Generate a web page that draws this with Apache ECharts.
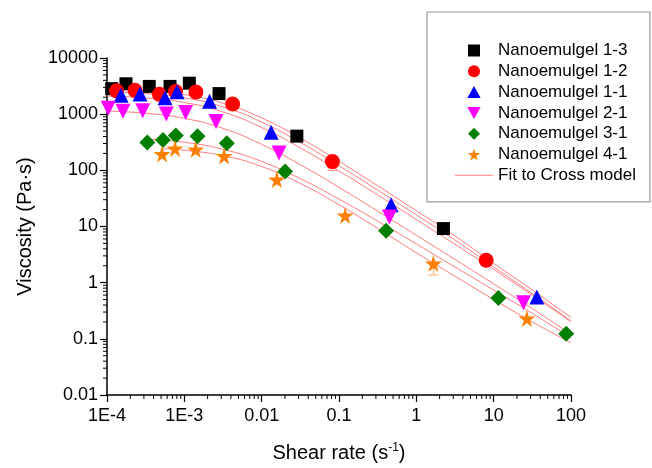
<!DOCTYPE html>
<html><head><meta charset="utf-8">
<script src="https://cdn.jsdelivr.net/npm/echarts@6/dist/echarts.min.js"></script>
<style>html,body{margin:0;padding:0;background:#fff}#c{width:652px;height:468px}</style>
</head><body><div id="c"></div>
<script>
// ---- data ----
const xTickLabels = ['1E-4','1E-3','0.01','0.1','1','10','100'];
const yTickLabels = ['0.01','0.1','1','10','100','1000','10000'];
const seriesNames = ['Nanoemulgel 1-3','Nanoemulgel 1-2','Nanoemulgel 1-1','Nanoemulgel 2-1','Nanoemulgel 3-1','Nanoemulgel 4-1'];

const shear13 = [1.15e-4, 1.76e-4, 3.52e-4, 6.53e-4, 1.16e-3, 2.81e-3, 0.0285, 2.24];
const visc13  = [2843, 3475, 3120, 3120, 3560, 2325, 406, 9.19];
const shear12 = [1.33e-4, 2.30e-4, 4.75e-4, 7.69e-4, 1.41e-3, 4.21e-3, 0.0822, 8.0];
const visc12  = [2600, 2655, 2260, 2530, 2480, 1513, 143, 2.51];
const shear11 = [1.52e-4, 2.67e-4, 5.62e-4, 8.05e-4, 2.12e-3, 0.01325, 0.472, 36.2];
const visc11  = [2173, 2280, 1963, 2500, 1706, 478, 24.4, 0.558];
const shear21 = [1.04e-4, 1.61e-4, 2.90e-4, 5.85e-4, 1.04e-3, 2.57e-3, 0.0168, 0.449, 24.3];
const visc21  = [1274, 1128, 1156, 1012, 1075, 743, 203, 14.7, 0.44];
const shear31 = [3.32e-4, 5.29e-4, 7.76e-4, 1.48e-3, 3.54e-3, 0.0201, 0.406, 11.5, 86.7];
const visc31  = [312, 346, 418, 406, 303, 95.7, 8.38, 0.536, 0.123];
const shear41 = [5.15e-4, 7.59e-4, 1.40e-3, 3.27e-3, 0.0157, 0.120, 1.66, 26.9];
const visc41  = [195, 245, 235, 180, 68.5, 15.7, 2.19, 0.231];

// visible error bars: [shear rate, lower, upper]
const err12 = [[0.0822, 99.6, 150]];
const err41 = [[1.66, 1.37, 2.3]];

// fit curves (Cross model lines)
const fitX    = [1e-4, 3.16e-4, 1e-3, 3.16e-3, 0.01, 0.0316, 0.1, 0.316, 1, 3.16, 10, 31.6, 100];
const fit13   = [2794, 2620, 2229, 1570, 856, 375, 145, 53.2, 19.1, 6.81, 2.2, 0.74, 0.24];
const fit12   = [2494, 2324, 1952, 1346, 721, 313, 121, 44.5, 16.1, 5.75, 1.9, 0.64, 0.21];
const fit11   = [2099, 1943, 1610, 1092, 578, 251, 97.8, 36.4, 13.3, 4.82, 1.72, 0.6, 0.2];
const fit21   = [1135, 1038, 842, 557, 290, 126, 49.8, 18.8, 6.99, 2.59, 0.952, 0.345, 0.12];
const fitX31  = [3.3e-4, 1e-3, 3.16e-3, 0.01, 0.0316, 0.1, 0.316, 1, 3.16, 10, 31.6, 100];
const fit31   = [360, 316, 237, 144, 71.2, 30.8, 12.5, 4.90, 1.90, 0.736, 0.284, 0.105];
const fitX41  = [5.15e-4, 1e-3, 3.16e-3, 0.01, 0.0316, 0.1, 0.316, 1, 3.16, 10, 31.6, 100];
const fit41   = [243, 228, 182, 117, 58.4, 24.4, 9.3, 3.41, 1.3, 0.5, 0.2, 0.085];

const colors  = ['#000000','#ff0000','#0000ff','#ff00ff','#007f00','#ff8000'];
const STAR = 'path://M50,0 L61,35 L98,35 L68,57 L79,91 L50,70 L21,91 L32,57 L2,35 L39,35 Z';
const symbols = ['rect','circle','triangle','triangle','diamond',STAR];
const symRot  = [0,0,0,180,0,0];
const symSize = [13,15,15,15,16,17];
const legendIcons = ['path://M0,0H10V10H0Z','path://M10,5A5,5 0 1 1 0,5A5,5 0 1 1 10,5Z','path://M5,0L10,9L0,9Z','path://M0,0L10,0L5,9Z','path://M5,0L10,5L5,10L0,5Z',STAR];
const FITCOLOR = '#ff7b7b';

const pts = [[shear13,visc13],[shear12,visc12],[shear11,visc11],[shear21,visc21],[shear31,visc31],[shear41,visc41]];
const fits = [[fitX,fit13],[fitX,fit12],[fitX,fit11],[fitX,fit21],[fitX31,fit31],[fitX41,fit41]];
const zip = (a,b) => a.map((v,i)=>[v,b[i]]);

const chart = echarts.init(document.getElementById('c'), null, {renderer:'canvas'});
const FONT = 'Liberation Sans, Arial, sans-serif';

function errSeries(data, color){
  return {type:'custom', data:data, z:2, silent:true,
    renderItem:(params, api)=>{
      const lo = api.coord([api.value(0), api.value(1)]);
      const hi = api.coord([api.value(0), api.value(2)]);
      const st = {stroke:color, lineWidth:1};
      return {type:'group', children:[
        {type:'line', shape:{x1:lo[0], y1:lo[1], x2:hi[0], y2:hi[1]}, style:st},
        {type:'line', shape:{x1:lo[0]-5, y1:lo[1], x2:lo[0]+5, y2:lo[1]}, style:st},
        {type:'line', shape:{x1:hi[0]-5, y1:hi[1], x2:hi[0]+5, y2:hi[1]}, style:st}
      ]};
    }};
}

const series = [];
fits.forEach((f,i)=>{
  series.push({name:'Fit to Cross model', type:'line', data: zip(f[0],f[1]), smooth:true, showSymbol:false,
    symbol:'none', lineStyle:{color:FITCOLOR, width:1}, itemStyle:{color:FITCOLOR}, z:1, silent:true});
});
series.push(errSeries(err12, '#ff8a8a'));
series.push(errSeries(err41, '#ffb070'));
pts.forEach((p,i)=>{
  series.push({name:seriesNames[i], type:'scatter', data: zip(p[0],p[1]), symbol:symbols[i], symbolRotate:symRot[i],
    symbolSize:symSize[i], itemStyle:{color:colors[i], opacity:1}, z:3});
});

const fmtX = v => { const e = Math.round(Math.log10(v)); return xTickLabels[e+4]; };
const fmtY = v => { const e = Math.round(Math.log10(v)); return yTickLabels[e+2]; };

chart.setOption({
  animation:false,
  backgroundColor:'#fff',
  grid:{left:107, right:81, top:58, bottom:64, containLabel:false},
  xAxis:{type:'log', logBase:10, min:1e-4, max:100,
    axisLine:{show:true, lineStyle:{color:'#000', width:1.5}},
    axisTick:{show:true, inside:false, length:7, lineStyle:{color:'#000', width:1.2}},
    splitLine:{show:false}, minorTick:{show:false},
    axisLabel:{formatter:fmtX, fontSize:18, color:'#000', fontFamily:FONT, margin:12, showMinLabel:true, showMaxLabel:true},
    name:'Shear rate (s{sup|-1})', nameLocation:'middle', nameGap:47,
    nameTextStyle:{fontSize:20, color:'#000', fontFamily:FONT, rich:{sup:{fontSize:12, verticalAlign:'top', padding:[0,0,10,0], color:'#000', fontFamily:FONT}}}
  },
  yAxis:{type:'log', logBase:10, min:0.01, max:10000,
    axisLine:{show:true, lineStyle:{color:'#000', width:1.5}},
    axisTick:{show:true, inside:false, length:7, lineStyle:{color:'#000', width:1.2}},
    splitLine:{show:false}, minorTick:{show:false},
    axisLabel:{formatter:fmtY, fontSize:18, color:'#000', fontFamily:FONT, margin:9, showMinLabel:true, showMaxLabel:true},
    name:'Viscosity (Pa·s)', nameLocation:'middle', nameGap:72,
    nameTextStyle:{fontSize:20, color:'#000', fontFamily:FONT}
  },
  legend:{
    orient:'vertical', left:427, top:12, padding:[30,14,18,28],
    borderColor:'#999', borderWidth:1.2, backgroundColor:'#fff',
    itemWidth:38, itemHeight:12, itemGap:3.8, symbolKeepAspect:true,
    textStyle:{fontSize:17, color:'#000', fontFamily:FONT, padding:[0,0,0,0]},
    data: seriesNames.map((n,i)=>({name:n, icon:legendIcons[i], itemStyle:{color:colors[i]}}))
      .concat([{name:'Fit to Cross model', icon:'path://M0,0H38V1H0Z', itemStyle:{color:FITCOLOR}}])
  },
  series: series
});

// minor ticks on log axes (2..9 per decade), positioned via the chart's own scales
function minorTicks(){
  const g = [];
  const x0 = chart.convertToPixel({xAxisIndex:0}, 1e-4);
  const y0 = chart.convertToPixel({yAxisIndex:0}, 0.01);
  for (let e=-4; e<2; e++) for (let k=2; k<10; k++){
    const px = chart.convertToPixel({xAxisIndex:0}, k*Math.pow(10,e));
    g.push({type:'line', shape:{x1:px, y1:y0, x2:px, y2:y0+4}, style:{stroke:'#000', lineWidth:1}, silent:true});
  }
  for (let e=-2; e<4; e++) for (let k=2; k<10; k++){
    const py = chart.convertToPixel({yAxisIndex:0}, k*Math.pow(10,e));
    g.push({type:'line', shape:{x1:x0, y1:py, x2:x0-4, y2:py}, style:{stroke:'#000', lineWidth:1}, silent:true});
  }
  chart.setOption({graphic:g});
}
minorTicks();
</script></body></html>
